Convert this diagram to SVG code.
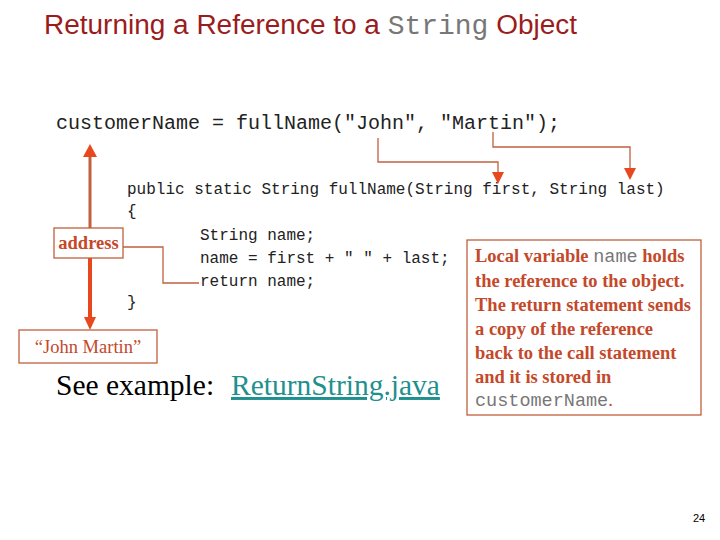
<svg xmlns="http://www.w3.org/2000/svg" width="720" height="540" viewBox="0 0 720 540">
<style>
.title{font-family:"Liberation Sans",Arial,sans-serif;font-size:27px;fill:#9b1c1c}
.tmono{font-family:"Liberation Mono","Courier New",monospace;fill:#777}
.code{font-family:"Liberation Mono","Courier New",monospace;fill:#222}
.note{font-family:"Liberation Serif","Times New Roman",serif;font-size:18.5px;font-weight:bold;fill:#c4482a}
.plain{font-weight:normal}
.nmono{font-family:"Liberation Mono","Courier New",monospace;font-weight:normal;fill:#777}
.box{fill:#fff;stroke:#c0603e;stroke-width:1.3}
.thin{fill:none;stroke:#c0603e;stroke-width:1.3}
.head{fill:#e8481e}
</style>
<rect width="720" height="540" fill="#fff"/>
<text class="title" x="44" y="34" textLength="533" lengthAdjust="spacingAndGlyphs">Returning a Reference to a <tspan class="tmono">String</tspan> Object</text>

<g id="call">
<text class="code" x="56" y="129" font-size="20">customerName = fullName("John", "Martin");</text>
</g>
<g id="method">
<text class="code" x="127" y="194" font-size="16">public static String fullName(String first, String last)</text>
<text class="code" x="127" y="216" font-size="16">{</text>
<text class="code" x="200" y="240" font-size="16">String name;</text>
<text class="code" x="200" y="263" font-size="16">name = first + " " + last;</text>
<text class="code" x="200" y="286" font-size="16">return name;</text>
<text class="code" x="127" y="307" font-size="16">}</text>
</g>

<g id="connectors">
<polyline class="thin" points="378,138 378,162 498,162 498,172"/>
<path class="head" d="M492,172 L504,172 L498,184 Z"/>
<polyline class="thin" points="493,132 493,147 630,147 630,168"/>
<path class="head" d="M624,168 L636,168 L630,180 Z"/>
<line x1="90" y1="228" x2="90" y2="156" stroke="#c0603e" stroke-width="3"/>
<path class="head" d="M83,157 L97,157 L90,144 Z"/>
<line x1="90" y1="258" x2="90" y2="318" stroke="#e8481e" stroke-width="4"/>
<path class="head" d="M84,317 L96,317 L90,330 Z"/>
<polyline class="thin" points="123,247 163,247 163,283 199,283"/>
</g>

<g id="address">
<rect class="box" x="54" y="228" width="69" height="30"/>
<text class="note" x="88.5" y="249" text-anchor="middle">address</text>
</g>
<g id="johnmartin">
<rect class="box" x="19" y="330" width="138" height="33"/>
<text class="note plain" x="88" y="353" text-anchor="middle">“John Martin”</text>
</g>

<g id="note">
<rect class="box" x="467" y="240" width="234" height="175"/>
<text class="note" x="475" y="262">Local variable <tspan class="nmono">name</tspan> holds</text>
<text class="note" x="475" y="287">the reference to the object.</text>
<text class="note" x="475" y="311">The return statement sends</text>
<text class="note" x="475" y="335">a copy of the reference</text>
<text class="note" x="475" y="359">back to the call statement</text>
<text class="note" x="475" y="383">and it is stored in</text>
<text class="note" x="475" y="406"><tspan class="nmono">customerName</tspan><tspan class="plain">.</tspan></text>
</g>

<g id="example">
<text x="56" y="395" font-family="Liberation Serif,'Times New Roman',serif" font-size="29.5" fill="#000">See example: <tspan x="231" fill="#1f8f8f" text-decoration="underline">ReturnString.java</tspan></text>
</g>
<text x="693" y="522" font-family="Liberation Sans,Arial,sans-serif" font-size="11" fill="#000">24</text>
</svg>
